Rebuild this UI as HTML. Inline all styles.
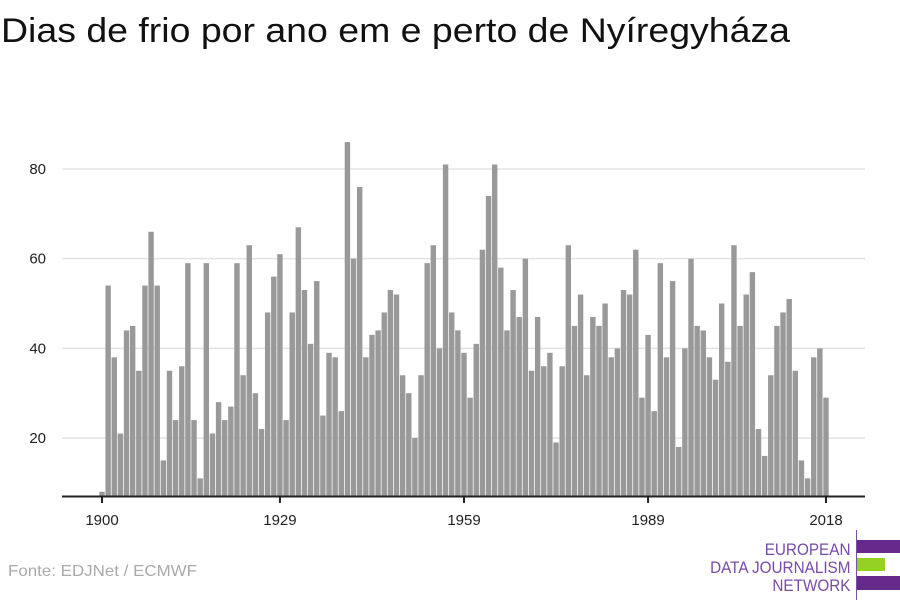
<!DOCTYPE html>
<html><head><meta charset="utf-8"><style>
body{margin:0;background:#fff;width:900px;height:600px;overflow:hidden;font-family:"Liberation Sans",sans-serif}
</style></head><body>
<svg width="900" height="600">
<text x="1" y="42" font-size="34" fill="#111" textLength="789" lengthAdjust="spacingAndGlyphs">Dias de frio por ano em e perto de Nyíregyháza</text>
<g id="grid"></g><g id="bars"></g><g id="axes"></g>
<text x="8" y="576" font-size="16" fill="#aaa" textLength="189" lengthAdjust="spacingAndGlyphs">Fonte: EDJNet / ECMWF</text>
<g>
<line x1="856.5" y1="530" x2="856.5" y2="600" stroke="#7b4fa6" stroke-width="1"/>
<rect x="857" y="540" width="43" height="13" fill="#652a8c"/>
<rect x="857" y="558" width="28" height="13" fill="#95d120"/>
<rect x="857" y="576" width="43" height="14" fill="#652a8c"/>
<g font-size="17" fill="#7a4aa8" text-anchor="end" transform="scale(0.9,1)">
<text x="945" y="555">EUROPEAN</text><text x="945" y="573">DATA JOURNALISM</text><text x="945" y="591">NETWORK</text></g>
</g>
</svg>
<script>
const years=[];for(let y=1900;y<=2018;y++)years.push(y);
const values=[8,54,38,21,44,45,35,54,66,54,15,35,24,36,59,24,11,59,21,28,24,27,59,34,63,30,22,48,56,61,24,48,67,53,41,55,25,39,38,26,86,60,76,38,43,44,48,53,52,34,30,20,34,59,63,40,81,48,44,39,29,41,62,74,81,58,44,53,47,60,35,47,36,39,19,36,63,45,52,34,47,45,50,38,40,53,52,62,29,43,26,59,38,55,18,40,60,45,44,38,33,50,37,63,45,52,57,22,16,34,45,48,51,35,15,11,38,40,29];
const yTicks=[20,40,60,80];
const xTicks=[1900,1929,1959,1989,2018];
const NS="http://www.w3.org/2000/svg";
const xs=y=>102+(y-1900)*(724/118);
const ys=v=>438-(v-20)*(269/60);
const base=496;
function mk(t,a,p){const e=document.createElementNS(NS,t);for(const k in a)e.setAttribute(k,a[k]);p.appendChild(e);return e;}
const grid=document.getElementById('grid'),bars=document.getElementById('bars'),axes=document.getElementById('axes');
yTicks.forEach(v=>{
 const l=mk('line',{x1:62,x2:865,y1:ys(v),y2:ys(v),stroke:'#e3e3e3','stroke-width':1.5},grid);
 
 
 const t=mk('text',{x:46,y:ys(v)+5,'font-size':15,fill:'#222','text-anchor':'end'},grid);t.textContent=v;
 
 
});
values.forEach((v,i)=>{
 const x=xs(years[i]);
 const r=mk('rect',{x:x-2.7,width:5.4,y:ys(v),height:base-ys(v),fill:'#999'},bars);
 
 
});
const ax=mk('line',{x1:62,x2:865,y1:base+0.5,y2:base+0.5,stroke:'#222','stroke-width':2},axes);


xTicks.forEach(y=>{
 mk('line',{x1:xs(y),x2:xs(y),y1:base,y2:base+7,stroke:'#222','stroke-width':2},axes);
 const t=mk('text',{x:xs(y),y:525,'font-size':15,fill:'#222','text-anchor':'middle'},axes);t.textContent=y;
 
 
});
</script>
</body></html>
